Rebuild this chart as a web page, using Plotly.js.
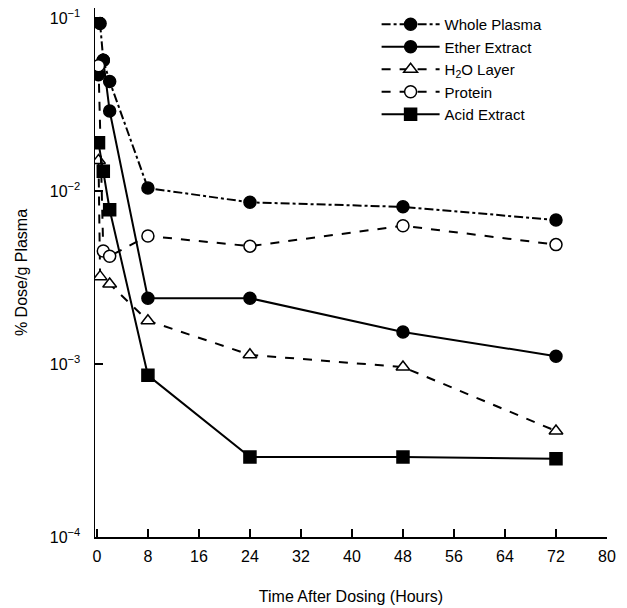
<!DOCTYPE html>
<html><head><meta charset="utf-8">
<script src="https://cdn.plot.ly/plotly-3.0.1.min.js"></script>
<style>html,body{margin:0;padding:0;background:#fff;}#chart{width:627px;height:608px;}</style>
</head><body><div id="chart"></div>
<script>
const wholeT = [0.5, 1, 2, 8, 24, 48, 72];
const wholeV = [0.093, 0.057, 0.043, 0.0104, 0.0086, 0.0081, 0.0068];
const etherT = [0.25, 1, 2, 8, 24, 48, 72];
const etherV = [0.047, 0.057, 0.029, 0.0024, 0.0024, 0.00153, 0.00111];
const h2oT = [0.25, 0.5, 2, 8, 24, 48, 72];
const h2oV = [0.015, 0.0032, 0.0029, 0.00178, 0.00113, 0.00096, 0.00041];
const protT = [0.25, 1, 2, 8, 24, 48, 72];
const protV = [0.053, 0.0045, 0.0042, 0.0055, 0.0048, 0.0063, 0.0049];
const acidT = [0.25, 1, 2, 8, 24, 48, 72];
const acidV = [0.019, 0.013, 0.0078, 0.00086, 0.00029, 0.00029, 0.000283];
const xTicks = [0, 8, 16, 24, 32, 40, 48, 56, 64, 72, 80];
const yTicks = [1e-4, 1e-3, 1e-2, 1e-1];
const yTickText = ['10<sup>−4</sup>', '10<sup>−3</sup>', '10<sup>−2</sup>', '10<sup>−1</sup>'];

const black = '#000';
function tr(name, x, y, dash, symbol, fill) {
  return {
    x: x, y: y, name: name, type: 'scatter', mode: 'lines+markers',
    line: {color: black, width: 2, dash: dash},
    marker: {symbol: symbol, size: 12, color: fill, line: {color: black, width: 1.5}}
  };
}
const data = [
  tr('Whole Plasma', wholeT, wholeV, 'dashdot', 'circle', black),
  tr('Ether Extract', etherT, etherV, 'solid', 'circle', black),
  tr('H<sub>2</sub>O Layer', h2oT, h2oV, 'dash', 'triangle-up', '#fff'),
  tr('Protein', protT, protV, 'dash', 'circle', '#fff'),
  tr('Acid Extract', acidT, acidV, 'solid', 'square', black)
];
const layout = {
  width: 627, height: 608,
  margin: {l: 95, r: 20, t: 8, b: 71},
  paper_bgcolor: '#fff', plot_bgcolor: '#fff',
  font: {family: 'Liberation Sans, Arial, sans-serif', color: black, size: 15},
  showlegend: true,
  legend: {x: 0.55, y: 1.0, xanchor: 'left', yanchor: 'top',
           bgcolor: 'rgba(0,0,0,0)', font: {size: 15}, itemwidth: 58, tracegroupgap: 0},
  xaxis: {range: [-0.3, 80], tickvals: xTicks, ticktext: xTicks.map(String),
          ticks: 'inside', ticklen: 8, tickwidth: 1.5, tickcolor: black, tickfont: {size: 16},
          ticklabelstandoff: 4,
          showline: true, linecolor: black, linewidth: 1.5, showgrid: false, zeroline: false,
          title: {text: 'Time After Dosing (Hours)', standoff: 27, font: {size: 16}}},
  yaxis: {type: 'log', range: [-4, -0.942], tickvals: yTicks, ticktext: yTickText,
          ticks: 'inside', ticklen: 8, tickwidth: 1.5, tickcolor: black, tickfont: {size: 16},
          ticklabelstandoff: 10,
          showline: true, linecolor: black, linewidth: 1.5, showgrid: false, zeroline: false,
          title: {text: '% Dose/g Plasma', standoff: 18, font: {size: 16}}}
};
Plotly.newPlot('chart', data, layout, {displayModeBar: false, staticPlot: true});
</script></body></html>
